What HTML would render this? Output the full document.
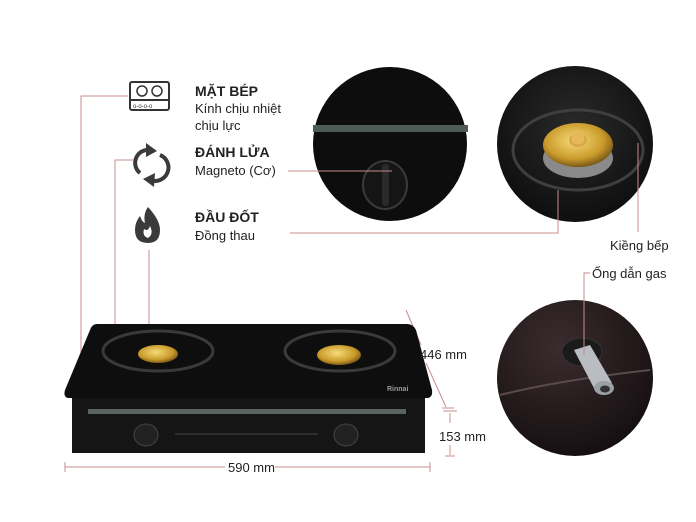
<!DOCTYPE html>
<html><head><meta charset="utf-8"><style>
body{margin:0;background:#fff;}
svg{display:block;font-family:"Liberation Sans","Noto Sans CJK SC",sans-serif;}
</style></head><body>
<svg width="696" height="522" viewBox="0 0 696 522" xmlns="http://www.w3.org/2000/svg">
<defs>
<radialGradient id="brass" cx="0.45" cy="0.4" r="0.6"><stop offset="0" stop-color="#f6dc7a"/><stop offset="0.7" stop-color="#c99a2a"/><stop offset="1" stop-color="#7a5a18"/></radialGradient>
<radialGradient id="dark" cx="0.5" cy="0.4" r="0.7"><stop offset="0" stop-color="#2a2a2a"/><stop offset="1" stop-color="#0a0a0a"/></radialGradient>
<radialGradient id="dark3" cx="0.4" cy="0.3" r="0.8"><stop offset="0" stop-color="#3a2c2e"/><stop offset="1" stop-color="#120c0e"/></radialGradient>
</defs>

<!-- circle 1: knob -->
<circle cx="390" cy="144" r="77" fill="#0d0d0d"/>
<rect x="313" y="125" width="155" height="7" fill="#4d5a55"/>
<ellipse cx="385" cy="185" rx="22" ry="24" fill="#151515" stroke="#3a3a3a" stroke-width="2"/>
<rect x="382" y="164" width="7" height="42" rx="3" fill="#2a2a2a"/>

<!-- circle 2: burner -->
<circle cx="575" cy="144" r="78" fill="url(#dark)"/>
<ellipse cx="578" cy="150" rx="65" ry="40" fill="none" stroke="#3f3f3f" stroke-width="3"/>
<ellipse cx="578" cy="158" rx="35" ry="20" fill="#8a8a8a"/>
<ellipse cx="578" cy="145" rx="35" ry="22" fill="url(#brass)"/>
<ellipse cx="578" cy="140" rx="9" ry="7" fill="#d9a84a"/>
<rect x="572" y="130" width="12" height="14" rx="4" fill="#e5b95a"/>

<!-- circle 3: gas pipe -->
<circle cx="575" cy="378" r="78" fill="url(#dark3)"/>
<path d="M500 395 Q560 380 650 370" stroke="#5a4a4c" stroke-width="2" fill="none"/>
<ellipse cx="582" cy="352" rx="20" ry="14" fill="#1a1a1a" stroke="#333"/>
<path d="M574 350 L590 345 L612 383 L596 392 Z" fill="#b9bcc0"/>
<ellipse cx="604" cy="388" rx="10" ry="7" fill="#9aa0a4"/>
<ellipse cx="605" cy="389" rx="5" ry="3.5" fill="#333"/>

<!-- connectors -->
<g stroke="#c98c8c" stroke-width="1" fill="none">
<path d="M128 96 H81 V388"/>
<path d="M133 160 H115 V440 H143"/>
<path d="M149 250 V347"/>
<path d="M288 171 H392"/>
<path d="M290 233 H558 V190"/>
<path d="M638 143 V232"/>
<path d="M590 273 H584 V355"/>
<path d="M65 467 H225 M275 467 H430 M65 462 V472 M430 462 V472"/>
<path d="M406 310 L421 345 M426 363 L446 407 M442 408 H454 M450 413 V423 M450 445 V455 M445 456 H455 M443 411 H457"/>
</g>
<g fill="#d66a6a"><circle cx="81" cy="389" r="2.5"/><circle cx="144" cy="440" r="2.5"/><circle cx="158" cy="348" r="2.5"/></g>

<!-- stove -->
<path d="M97 324 L407 324 Q413 324 416 330 L432 390 Q433 397 428 398 L68 398 Q63 397 65 390 L90 330 Q92 324 97 324 Z" fill="#0e0e0e"/>
<rect x="72" y="398" width="353" height="55" fill="#151515"/>
<rect x="88" y="409" width="318" height="5" fill="#5a6560"/>
<ellipse cx="158" cy="351" rx="55" ry="20" fill="none" stroke="#3a3a3a" stroke-width="3"/>
<ellipse cx="158" cy="354" rx="20" ry="9" fill="url(#brass)"/>
<ellipse cx="340" cy="351" rx="55" ry="20" fill="none" stroke="#3a3a3a" stroke-width="3"/>
<ellipse cx="339" cy="355" rx="22" ry="10" fill="url(#brass)"/>
<ellipse cx="146" cy="435" rx="12" ry="11" fill="#222" stroke="#444"/>
<ellipse cx="346" cy="435" rx="12" ry="11" fill="#222" stroke="#444"/>
<line x1="175" y1="434" x2="318" y2="434" stroke="#444"/>
<text x="387" y="391" font-size="7" fill="#999" font-weight="bold">Rinnai</text>

<!-- icons -->
<rect x="130" y="82" width="39" height="28" rx="2" fill="none" stroke="#333" stroke-width="2"/>
<line x1="130" y1="100" x2="169" y2="100" stroke="#333" stroke-width="2"/>
<circle cx="142" cy="91" r="5" fill="none" stroke="#333" stroke-width="1.5"/>
<circle cx="157" cy="91" r="5" fill="none" stroke="#333" stroke-width="1.5"/>
<text x="133" y="108" font-size="6" fill="#333">o-o-o-o</text>
<g fill="none" stroke="#3a3a3a" stroke-width="4">
<path d="M140 173 A13 13 0 0 1 150 150"/>
<path d="M160 155 A13 13 0 0 1 150 180"/>
</g>
<path d="M146 143 L157 151 L146 157 Z M154 187 L143 179 L155 173 Z" fill="#3a3a3a"/>
<path d="M148 207 Q160 220 160 230 Q160 243 148 243 Q135 243 135 230 Q135 222 140 216 Q142 222 145 223 Q143 214 148 207 Z" fill="#3a3a3a"/>
<path d="M148 238 Q142 236 144 229 Q148 232 150 226 Q154 234 148 238 Z" fill="#fff"/>

<!-- texts -->
<g fill="#222" font-size="13">
<text x="195" y="96" font-weight="bold" font-size="14">MẶT BÉP</text>
<text x="195" y="113">Kính chịu nhiệt</text>
<text x="195" y="130">chịu lực</text>
<text x="195" y="157" font-weight="bold" font-size="14">ĐÁNH LỬA</text>
<text x="195" y="175">Magneto (Cơ)</text>
<text x="195" y="222" font-weight="bold" font-size="14">ĐẦU ĐỐT</text>
<text x="195" y="240">Đồng thau</text>
<text x="610" y="250">Kiềng bếp</text>
<text x="592" y="278">Ống dẫn gas</text>
<text x="420" y="359">446 mm</text>
<text x="439" y="441">153 mm</text>
<text x="228" y="472">590 mm</text>
</g>
</svg>
</body></html>
